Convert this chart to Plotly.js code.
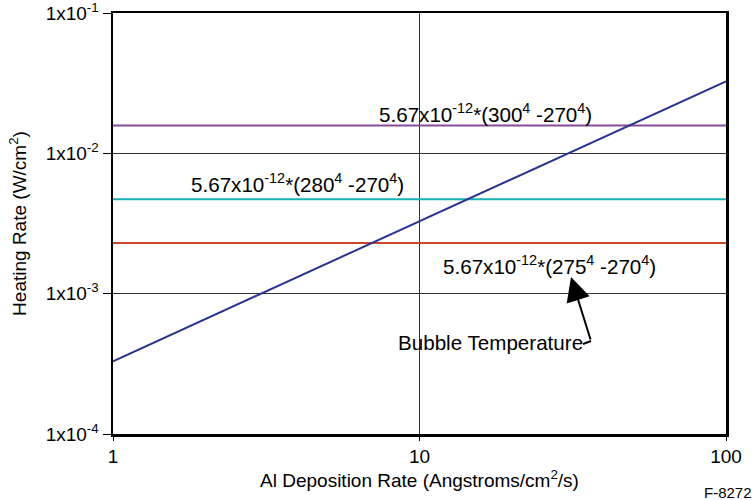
<!DOCTYPE html>
<html>
<head>
<meta charset="utf-8">
<script src="https://cdn.plot.ly/plotly-3.0.1.min.js"></script>
<style>html,body{margin:0;padding:0;background:#fff;}#chart{width:754px;height:500px;}</style>
</head>
<body>
<div id="chart"></div>
<script>
// Data
const xRange = [1, 100];
const level300 = [0.0158, 0.0158];   // 5.67e-12*(300^4-270^4)
const level280 = [0.0047, 0.0047];   // 5.67e-12*(280^4-270^4)
const level275 = [0.0023, 0.0023];   // 5.67e-12*(275^4-270^4)
const bubbleX = [1, 100];
const bubbleY = [0.00033, 0.0326];

const xTickVals = [1, 10, 100];
const xTickText = ['1', '10', '100'];
const yTickVals = [1e-4, 1e-3, 1e-2, 1e-1];
const yTickText = ['1x10<sup>-4</sup>', '1x10<sup>-3</sup>', '1x10<sup>-2</sup>', '1x10<sup>-1</sup>'];

const FONT = 'Liberation Sans, Arial, sans-serif';

const traces = [
  {x: xRange, y: level300, mode: 'lines', line: {color: '#8a4a9c', width: 2}, hoverinfo: 'skip'},
  {x: xRange, y: level280, mode: 'lines', line: {color: '#17b0b3', width: 2}, hoverinfo: 'skip'},
  {x: xRange, y: level275, mode: 'lines', line: {color: '#c9452b', width: 2}, hoverinfo: 'skip'},
  {x: bubbleX, y: bubbleY, mode: 'lines', line: {color: '#2b3390', width: 2}, hoverinfo: 'skip'}
];

const px = v => (v - 113) / 613;
const py = v => (434 - v) / 421;
const annFont = {family: FONT, size: 20.6, color: '#000'};
const layout = {
  width: 754, height: 500,
  margin: {l: 113, r: 28, t: 13, b: 66},
  paper_bgcolor: '#fff', plot_bgcolor: '#fff',
  showlegend: false,
  font: {family: FONT, size: 18, color: '#000'},
  xaxis: {
    type: 'log', range: [0, 2],
    tickvals: xTickVals, ticktext: xTickText,
    ticks: 'outside', ticklen: 4, tickcolor: '#000', tickwidth: 1,
    showline: true, linecolor: '#000', linewidth: 2.5, mirror: true,
    showgrid: true, gridcolor: '#333', gridwidth: 1,
    zeroline: false, ticklabeloverflow: 'allow',
    tickfont: {family: FONT, size: 19, color: '#000'},
    title: {text: 'Al Deposition Rate (Angstroms/cm<sup>2</sup>/s)', font: {family: FONT, size: 19, color: '#000'}, standoff: 6}
  },
  yaxis: {
    type: 'log', range: [-4, -1],
    tickvals: yTickVals, ticktext: yTickText,
    ticks: 'outside', ticklen: 8, tickcolor: '#000', tickwidth: 1,
    showline: true, linecolor: '#000', linewidth: 2.5, mirror: true,
    showgrid: true, gridcolor: '#333', gridwidth: 1,
    zeroline: false, ticklabeloverflow: 'allow',
    tickfont: {family: FONT, size: 19, color: '#000'},
    title: {text: 'Heating Rate (W/cm<sup>2</sup>)', font: {family: FONT, size: 19, color: '#000'}, standoff: 14}
  },
  annotations: [
    {xref: 'paper', yref: 'paper', x: px(485), y: py(113), xanchor: 'center', yanchor: 'middle', text: '5.67x10<sup>-12</sup>*(300<sup>4</sup> -270<sup>4</sup>)', showarrow: false, font: annFont},
    {xref: 'paper', yref: 'paper', x: px(297), y: py(183), xanchor: 'center', yanchor: 'middle', text: '5.67x10<sup>-12</sup>*(280<sup>4</sup> -270<sup>4</sup>)', showarrow: false, font: annFont},
    {xref: 'paper', yref: 'paper', x: px(549), y: py(265), xanchor: 'center', yanchor: 'middle', text: '5.67x10<sup>-12</sup>*(275<sup>4</sup> -270<sup>4</sup>)', showarrow: false, font: annFont},
    {xref: 'paper', yref: 'paper', x: px(490), y: py(342), xanchor: 'center', yanchor: 'middle', text: 'Bubble Temperature', showarrow: false, font: annFont},
    {xref: 'paper', yref: 'paper', x: px(571), y: py(277), text: '', showarrow: true,
      axref: 'pixel', ayref: 'pixel', ax: 20, ay: 64,
      arrowhead: 2, arrowsize: 2.4, arrowwidth: 2, arrowcolor: '#000'},
    {xref: 'paper', yref: 'paper', x: px(754), xanchor: 'right', y: py(492), yanchor: 'middle', text: 'F-8272', showarrow: false, font: {family: FONT, size: 15, color: '#000'}}
  ],
  shapes: [
    {type: 'line', xref: 'paper', yref: 'paper', x0: px(583), x1: px(591), y0: py(344), y1: py(341), line: {color: '#000', width: 2}}
  ]
};

Plotly.newPlot('chart', traces, layout, {staticPlot: true, displayModeBar: false});
</script>
</body>
</html>
